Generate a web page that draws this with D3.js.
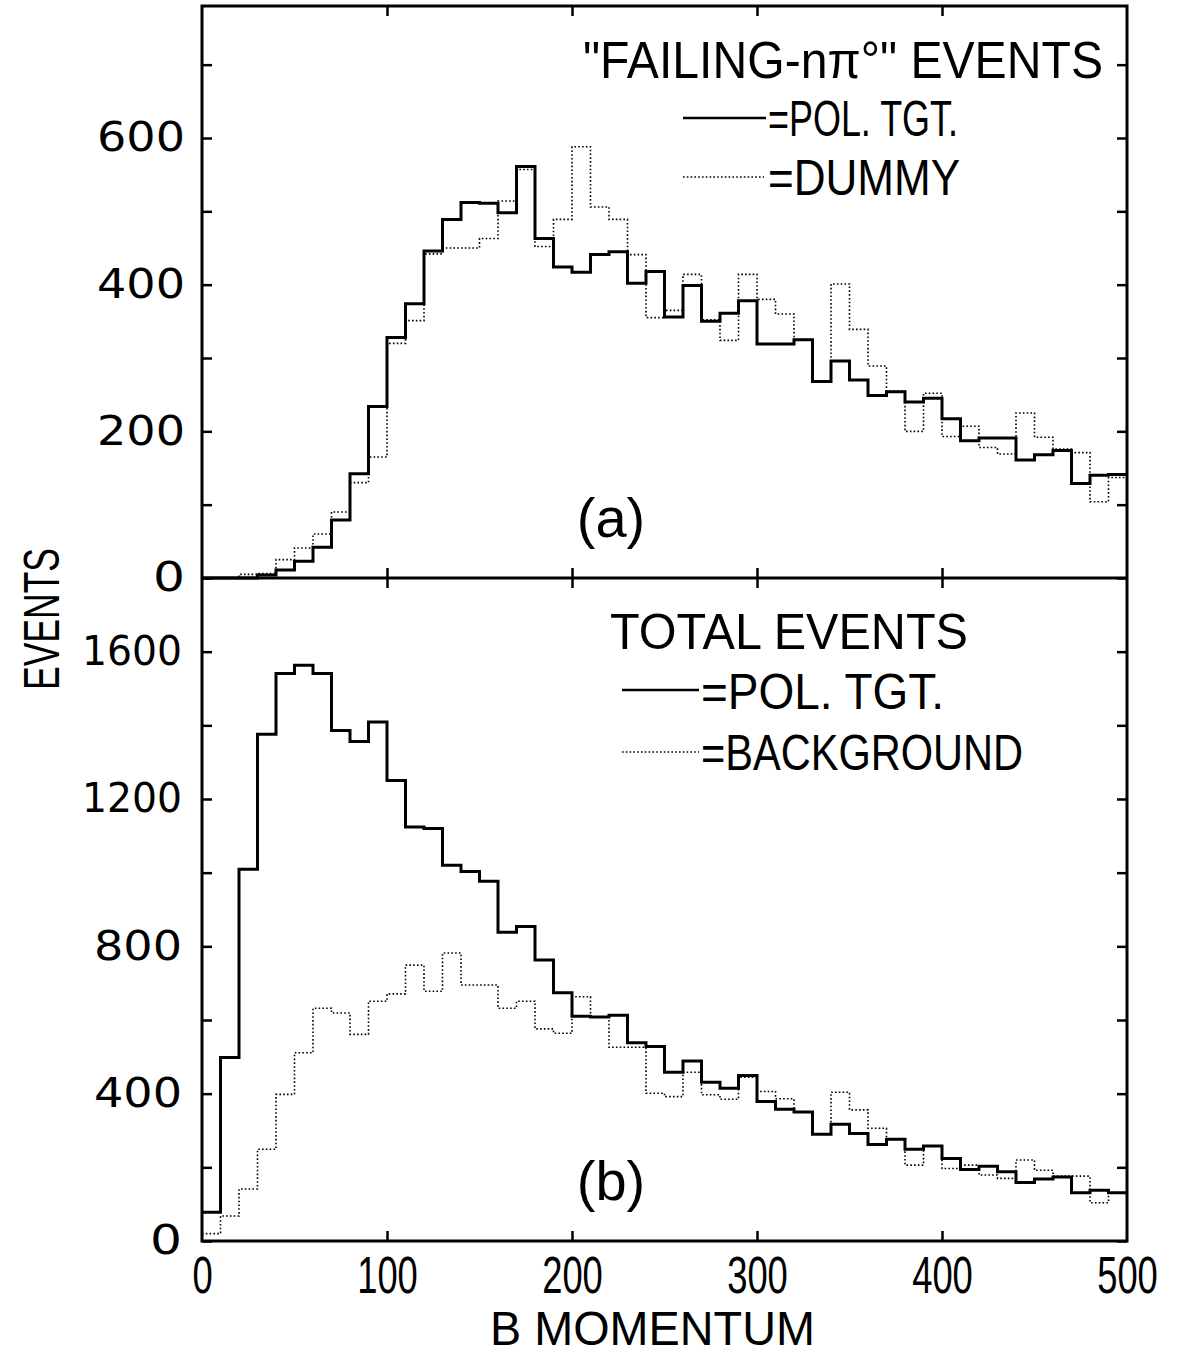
<!DOCTYPE html>
<html><head><meta charset="utf-8">
<script src="https://cdn.jsdelivr.net/npm/d3@7"></script>
<style>body{margin:0;background:#fff}</style>
</head><body>
<svg id="c" width="1185" height="1355"></svg>
<script>
// ---- data ----
const binStart = [0,10,20,30,40,50,60,70,80,90,100,110,120,130,140,150,160,170,180,190,
  200,210,220,230,240,250,260,270,280,290,300,310,320,330,340,350,360,370,380,390,
  400,410,420,430,440,450,460,470,480,490];
const binEnd = 500;

// (a) "FAILING-nπ°" events
const polTgtA = [0,0,0,4,11,23,42,79,142,234,328,374,446,489,512,511,498,561,463,424,
  417,441,445,402,418,356,399,350,361,378,319,319,325,268,296,270,249,254,240,245,
  217,187,191,191,161,168,174,129,140,141];
const dummyA = [0,0,5,6,25,41,60,90,130,165,320,351,442,450,450,463,514,557,452,489,
  588,506,489,441,355,365,414,352,324,414,380,360,325,268,401,339,289,255,200,252,
  193,207,178,169,225,192,176,171,104,137];

// (b) total events
const polTgtB = [78,498,1009,1376,1541,1563,1541,1386,1356,1409,1250,1124,1120,1020,1003,977,838,854,763,674,
  610,608,613,538,528,458,489,431,415,449,379,358,350,290,317,292,262,276,249,258,
  224,194,203,188,159,168,174,131,138,131];
const backgroundB = [20,68,141,249,398,511,632,619,561,651,671,749,678,782,695,695,632,651,576,564,
  663,608,526,526,401,392,458,397,385,445,406,386,350,290,404,356,306,276,206,258,
  197,206,179,170,220,192,176,176,104,131];

const xTicks = [0,100,200,300,400,500];
const xInnerTicks = [100,200,300,400];
const yTicksA = [0,100,200,300,400,500,600,700];
const yLabelsA = [0,200,400,600];
const yTicksB = [0,200,400,600,800,1000,1200,1400,1600];
const yLabelsB = [0,400,800,1200,1600];

// ---- layout ----
const L = 202, R = 1127, T = 6, M = 578, B = 1241;
const svg = d3.select("#c");
const x = d3.scaleLinear().domain([0,500]).range([L,R]);
const yA = d3.scaleLinear().domain([0,780]).range([M,T]);
const yB = d3.scaleLinear().domain([0,1800]).range([B,M]);

function stepPts(vals){
  const p = binStart.map((s,i)=>[s, vals[i]]);
  p.push([binEnd, vals[vals.length-1]]);
  return p;
}
function drawHist(vals, y, solid){
  const line = d3.line().x(d=>x(d[0])).y(d=>y(d[1])).curve(d3.curveStepAfter);
  svg.append("path").attr("d", line(stepPts(vals)))
    .attr("fill","none").attr("stroke","#000")
    .attr("stroke-width", solid ? 3 : 1.6)
    .attr("stroke-dasharray", solid ? null : "1.6,2.2")
    .attr("stroke-linejoin","miter");
}
drawHist(dummyA, yA, false);
drawHist(polTgtA, yA, true);
drawHist(backgroundB, yB, false);
drawHist(polTgtB, yB, true);

// frame
svg.append("rect").attr("x",L).attr("y",T).attr("width",R-L).attr("height",B-T)
  .attr("fill","none").attr("stroke","#000").attr("stroke-width",3);
svg.append("line").attr("x1",L).attr("x2",R).attr("y1",M).attr("y2",M)
  .attr("stroke","#000").attr("stroke-width",3);

function clean(g){ g.select(".domain").remove(); g.selectAll(".tick line").attr("stroke-width",2.5); }

const yFont = "DejaVu Sans";
function yLab(labels){
  return d => labels.includes(d) ? String(d) : "";
}
function styleY(g){
  g.selectAll("text").attr("font-family",yFont).attr("font-size",40).attr("fill","#000")
    .attr("textLength", function(){ const t=this.textContent; return t.length===1?32:(t.length===3?88:100); })
    .attr("lengthAdjust","spacingAndGlyphs");
}
// left axes
svg.append("g").attr("transform",`translate(${L},0)`)
  .call(d3.axisLeft(yA).tickValues(yTicksA).tickSizeInner(-10).tickSizeOuter(0).tickPadding(17).tickFormat(yLab(yLabelsA)))
  .call(clean).call(styleY);
svg.append("g").attr("transform",`translate(${L},0)`)
  .call(d3.axisLeft(yB).tickValues(yTicksB).tickSizeInner(-10).tickSizeOuter(0).tickPadding(20).tickFormat(yLab(yLabelsB)))
  .call(clean).call(styleY);
// right axes
svg.append("g").attr("transform",`translate(${R},0)`)
  .call(d3.axisRight(yA).tickValues(yTicksA).tickSizeInner(-10).tickSizeOuter(0).tickFormat(""))
  .call(clean);
svg.append("g").attr("transform",`translate(${R},0)`)
  .call(d3.axisRight(yB).tickValues(yTicksB).tickSizeInner(-10).tickSizeOuter(0).tickFormat(""))
  .call(clean);
// top axis
svg.append("g").attr("transform",`translate(0,${T})`)
  .call(d3.axisTop(x).tickValues(xInnerTicks).tickSizeInner(-10).tickSizeOuter(0).tickFormat(""))
  .call(clean);
// middle line ticks (both sides)
svg.append("g").attr("transform",`translate(0,${M})`)
  .call(d3.axisTop(x).tickValues(xInnerTicks).tickSizeInner(10).tickSizeOuter(0).tickFormat(""))
  .call(clean);
svg.append("g").attr("transform",`translate(0,${M})`)
  .call(d3.axisBottom(x).tickValues(xInnerTicks).tickSizeInner(10).tickSizeOuter(0).tickFormat(""))
  .call(clean);
// bottom axis
const gx = svg.append("g").attr("transform",`translate(0,${B})`)
  .call(d3.axisBottom(x).tickValues(xTicks).tickSizeInner(-10).tickSizeOuter(0).tickPadding(15).tickFormat(d=>String(d)))
  .call(clean);
gx.selectAll(".tick line").filter(d=>d===0||d===500).remove();
gx.selectAll("text").attr("font-family","Liberation Sans").attr("font-size",52).attr("fill","#000")
  .attr("transform","scale(0.7,1)");

// axis titles
svg.append("text").attr("x",490).attr("y",1345).attr("font-family","Liberation Sans").attr("font-size",48)
  .attr("textLength",325).attr("lengthAdjust","spacingAndGlyphs").text("B MOMENTUM");
svg.append("text").attr("transform","translate(59,690) rotate(-90)").attr("font-family","Liberation Sans")
  .attr("font-size",50).attr("textLength",142).attr("lengthAdjust","spacingAndGlyphs").text("EVENTS");

// legends / annotations
function txt(s,x0,y0,size,len){
  svg.append("text").attr("x",x0).attr("y",y0).attr("font-family","Liberation Sans").attr("font-size",size)
    .attr("fill","#000").attr("textLength",len).attr("lengthAdjust","spacingAndGlyphs").text(s);
}
function legLine(x1,x2,y0,solid){
  svg.append("line").attr("x1",x1).attr("x2",x2).attr("y1",y0).attr("y2",y0).attr("stroke","#000")
    .attr("stroke-width", solid?2.5:1.6).attr("stroke-dasharray", solid?null:"1.6,2.2");
}
txt("\"FAILING-nπ°\" EVENTS", 583, 78, 52, 520);
legLine(683,766,118,true);
txt("=POL. TGT.", 768, 136, 50, 190);
legLine(683,764,177,false);
txt("=DUMMY", 768, 195, 50, 192);

txt("TOTAL EVENTS", 610, 649, 50, 358);
legLine(622,699,690,true);
txt("=POL. TGT.", 701, 709, 50, 243);
legLine(622,699,752,false);
txt("=BACKGROUND", 701, 770, 50, 322);

svg.append("text").attr("x",611).attr("y",537).attr("text-anchor","middle").attr("font-family","Liberation Sans")
  .attr("font-weight",300).attr("font-size",56).text("(a)");
svg.append("text").attr("x",611).attr("y",1200).attr("text-anchor","middle").attr("font-family","Liberation Sans")
  .attr("font-weight",300).attr("font-size",56).text("(b)");
</script>
</body></html>
